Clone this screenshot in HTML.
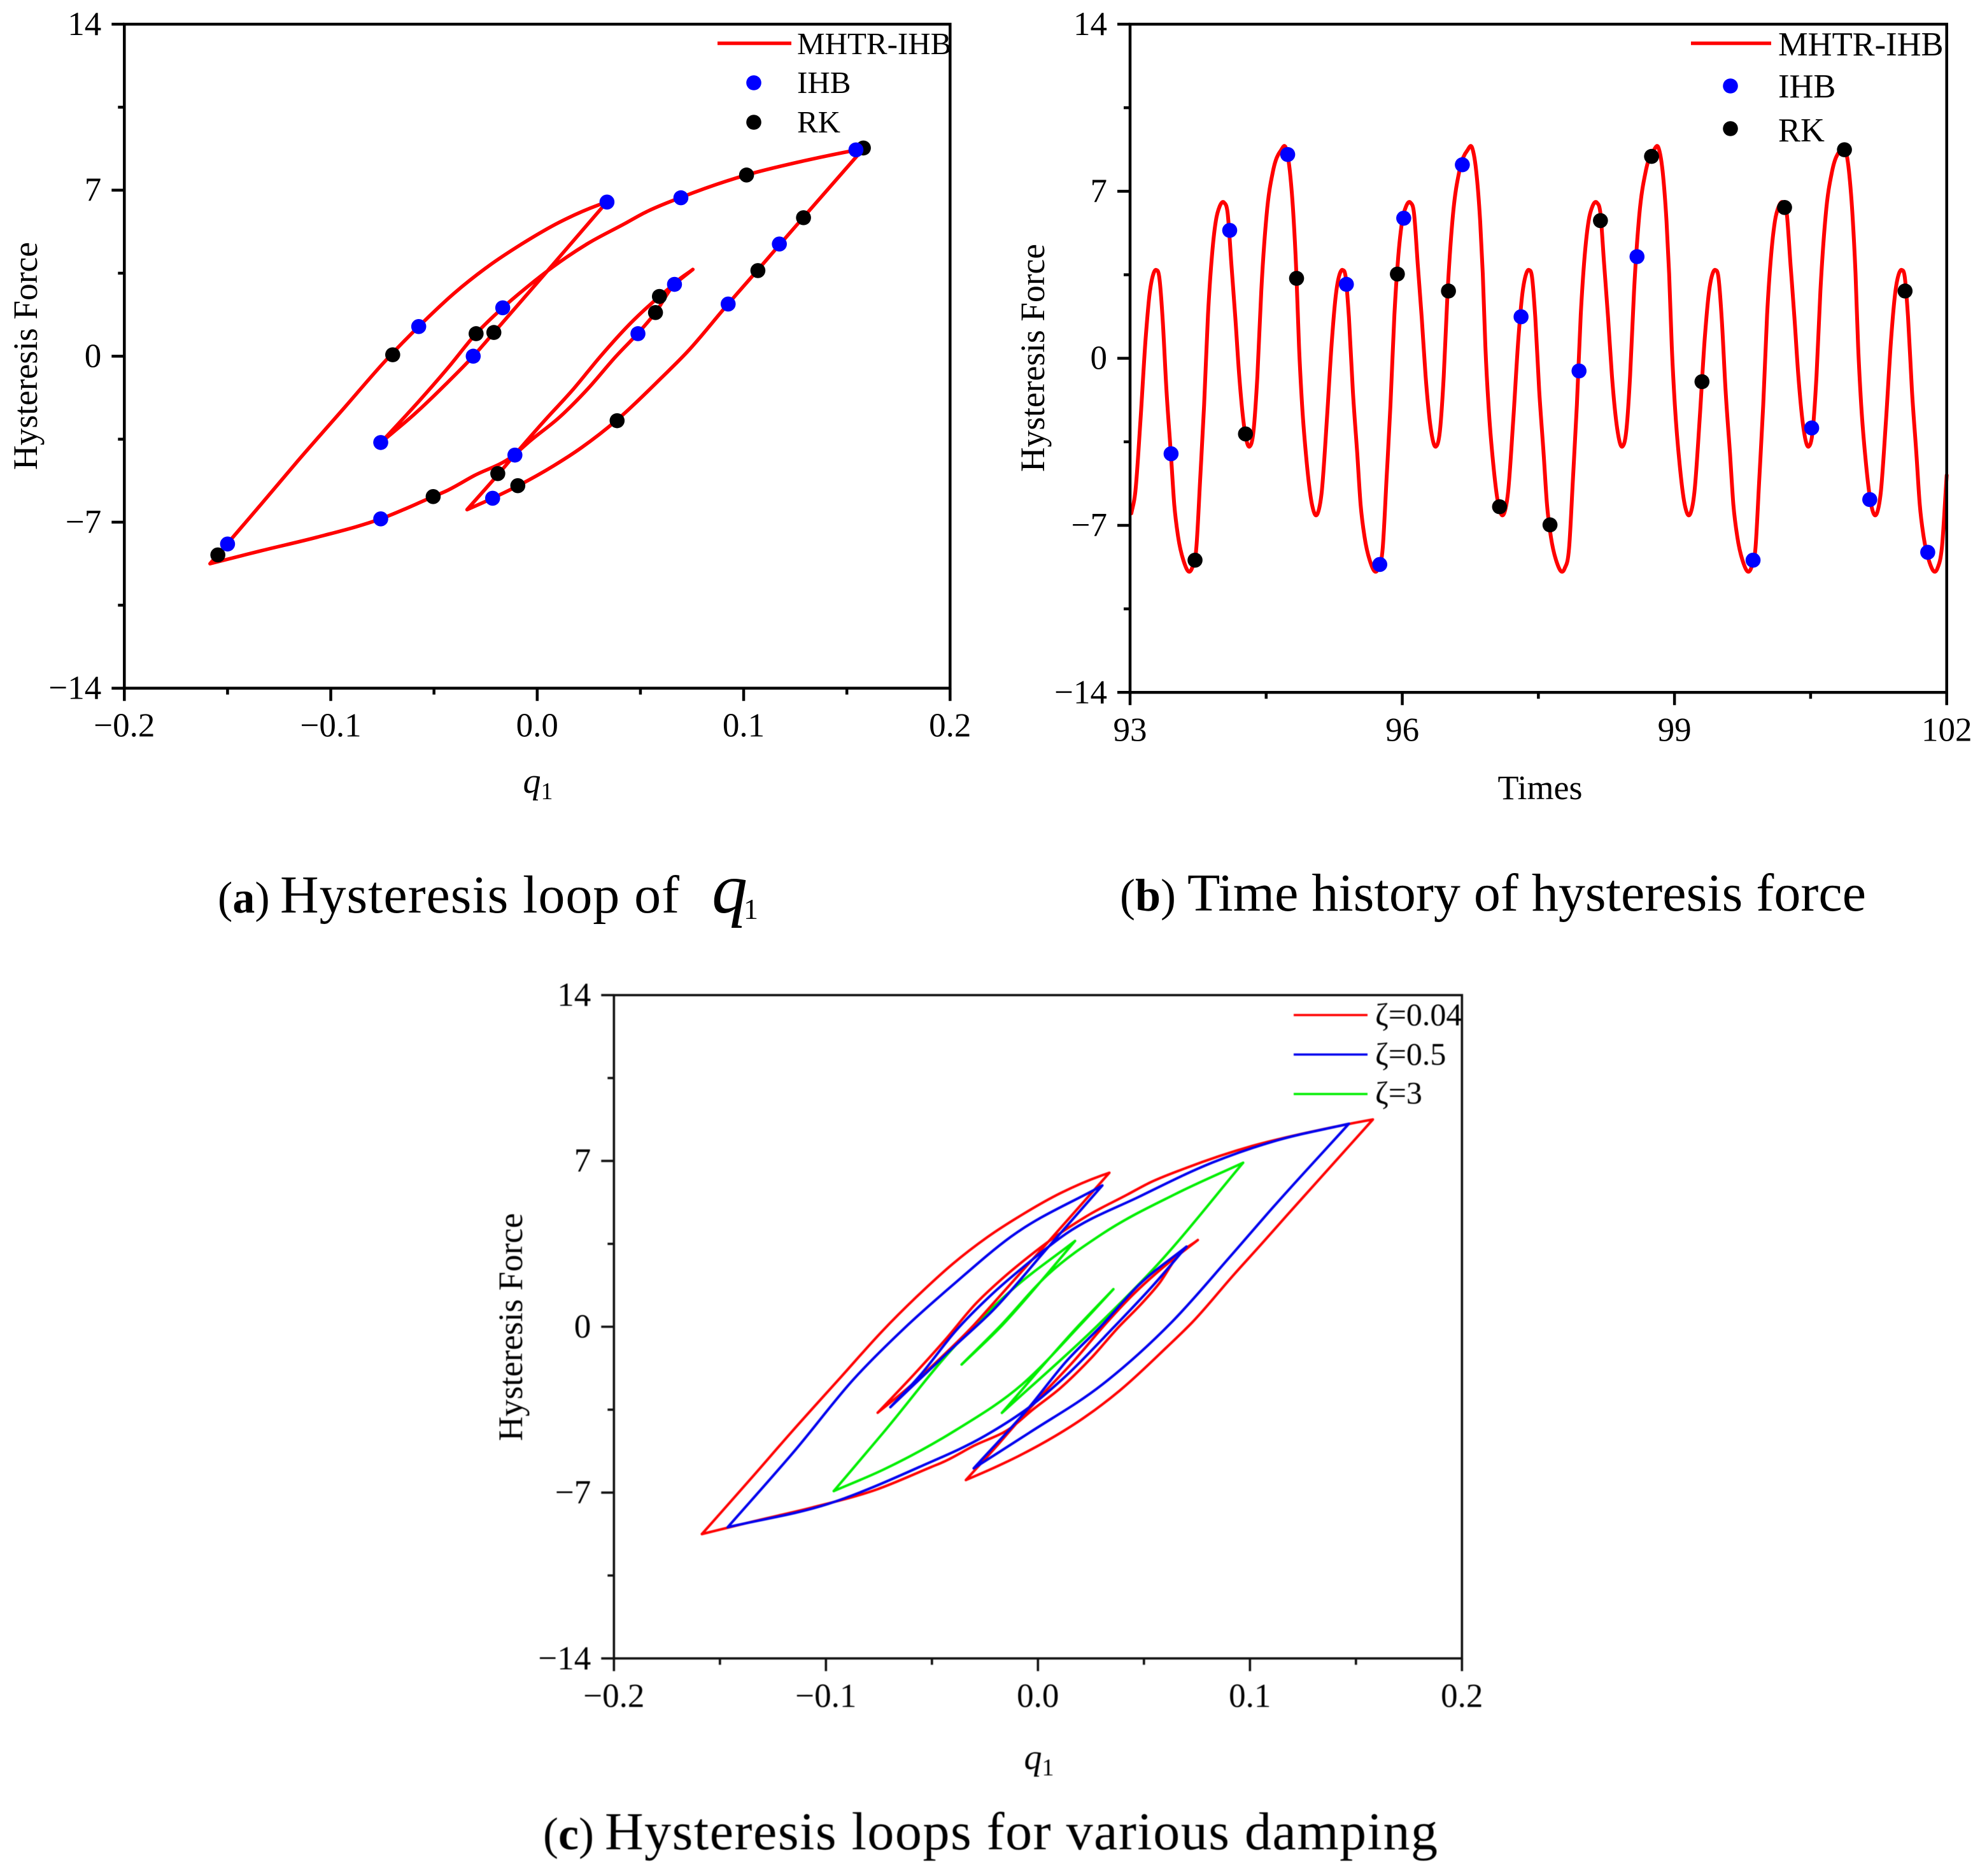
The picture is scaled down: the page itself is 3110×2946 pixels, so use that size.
<!DOCTYPE html>
<html>
<head>
<meta charset="utf-8">
<style>
html,body{margin:0;padding:0;background:#fff;}
svg{display:block;}
text{font-family:"Liberation Serif","Noto Serif CJK SC",serif;fill:#000;}
</style>
</head>
<body>
<svg id="figure" xmlns="http://www.w3.org/2000/svg" width="3110" height="2946" viewBox="0 0 3110 2946">
  <rect x="0" y="0" width="3110" height="2946" fill="#fff"/>

  <!-- Panel a labels -->
  <text transform="translate(58,559) rotate(-90)" text-anchor="middle" font-size="53.5">Hysteresis Force</text>
  <text x="845" y="1245" text-anchor="middle" font-size="56"><tspan font-style="italic">q</tspan><tspan font-size="38" dy="10">1</tspan></text>
  <text x="1252" y="85" font-size="49">MHTR-IHB</text>
  <text x="1252" y="146" font-size="49">IHB</text>
  <text x="1252" y="208" font-size="49">RK</text>
  <text x="342" y="1433" font-size="70">(<tspan font-weight="bold">a</tspan>)</text>
  <text x="440" y="1433" font-size="84" textLength="627">Hysteresis loop of</text>
  <text x="1118" y="1433" font-size="112" font-style="italic">q<tspan font-size="46" font-style="normal" dy="10" dx="-6">1</tspan></text>

  <!-- Panel b labels -->
  <text transform="translate(1640,562) rotate(-90)" text-anchor="middle" font-size="53.5">Hysteresis Force</text>
  <text x="2419" y="1255" text-anchor="middle" font-size="54">Times</text>
  <text x="2793" y="87" font-size="52.5">MHTR-IHB</text>
  <text x="2793" y="153" font-size="52.5">IHB</text>
  <text x="2793" y="222" font-size="52.5">RK</text>
  <text x="1759" y="1430" font-size="72">(<tspan font-weight="bold">b</tspan>)</text>
  <text x="1865" y="1430" font-size="84" textLength="1066">Time history of hysteresis force</text>

  <!-- Panel c labels -->
  <g style="filter:blur(0.6px)">
  <text transform="translate(820,2084) rotate(-90)" text-anchor="middle" font-size="53.5">Hysteresis Force</text>
  <text x="1632" y="2778" text-anchor="middle" font-size="56"><tspan font-style="italic">q</tspan><tspan font-size="38" dy="10">1</tspan></text>
  <text x="2160" y="1610" font-size="50">ζ=0.04</text>
  <text x="2160" y="1672" font-size="50">ζ=0.5</text>
  <text x="2160" y="1733" font-size="50">ζ=3</text>
  <text x="853" y="2904" font-size="72">(<tspan font-weight="bold">c</tspan>)</text>
  <text x="950" y="2904" font-size="84" textLength="1308">Hysteresis loops for various damping</text>
  </g>
</svg>
<script>
// ---------- Axis values ----------
const forceTicks = [14, 7, 0, -7, -14];
const forceTickLabels = ['14', '7', '0', '\u22127', '\u221214'];
const forceMinorTicks = [10.5, 3.5, -3.5, -10.5];
const qTicks = [-0.2, -0.1, 0, 0.1, 0.2];
const qTickLabels = ['\u22120.2', '\u22120.1', '0.0', '0.1', '0.2'];
const qMinorTicks = [-0.15, -0.05, 0.05, 0.15];
const timeTicks = [93, 96, 99, 102];
const timeTickLabels = ['93', '96', '99', '102'];
const timeMinorTicks = [94.5, 97.5, 100.5];

// ---------- Panel a / red curve of panel c: MHTR-IHB loop ----------
const loopQ = [-0.1585,-0.1478,-0.134,-0.1161,-0.0927,-0.0734,-0.0573,-0.0404,-0.0239,-0.0073,0.0106,0.0298,0.0337,
  0.0044,-0.0211,-0.031,-0.0445,-0.0597,-0.0756,
  -0.0569,-0.0431,-0.0297,-0.017,-0.0046,0.0078,0.0243,0.0422,0.052,0.0695,0.1013,0.1278,0.1543,0.158,
  0.1288,0.1174,0.1067,0.0926,0.0727,0.0603,0.0385,0.0217,0.008,-0.0092,-0.0219,-0.034,
  -0.0189,-0.011,0.0025,0.0176,0.0307,0.0451,0.0592,0.0754,
  0.0662,0.0572,0.0487,0.0382,0.0245,0.0107,-0.003,-0.0125,-0.0306,-0.0444,-0.0506,-0.0758,-0.1065,-0.134,-0.1585];
const loopForce = [-8.75,-7.67,-6.27,-4.43,-2.1,-0.18,1.26,2.64,3.78,4.74,5.64,6.38,6.5,
  3.54,0.985,0,-1.2,-2.46,-3.63,
  -1.86,-0.48,0.94,2.02,2.94,3.78,4.74,5.58,6.05,6.69,7.64,8.21,8.69,8.75,
  5.84,4.7,3.62,2.22,0.18,-0.9,-2.7,-3.84,-4.62,-5.46,-6.0,-6.47,
  -4.98,-4.17,-2.82,-1.38,0,1.38,2.52,3.66,
  3.02,1.83,0.96,0,-1.38,-2.58,-3.54,-4.25,-5.04,-5.7,-5.93,-6.86,-7.63,-8.21,-8.75];

const ihbQ = [-0.150,-0.0758,-0.0758,-0.0574,-0.031,-0.0167,-0.0108,-0.0216,0.0338,0.0488,0.0665,0.0696,0.0925,0.1173,0.1544];
const ihbForce = [-7.92,-6.86,-3.64,1.25,0,2.04,-4.17,-5.99,6.5,0.95,3.03,6.68,2.2,4.73,8.7];
const rkQ = [-0.1547,-0.070,-0.0504,-0.0296,-0.021,-0.0191,-0.0094,0.0387,0.0573,0.0592,0.1014,0.1069,0.129,0.158];
const rkForce = [-8.38,0.06,-5.92,0.95,1.0,-4.95,-5.46,-2.72,1.84,2.52,7.64,3.61,5.84,8.78];

// ---------- Panel b: time history ----------
const historyTime = [
93.014,93.057,93.115,93.172,93.215,93.258,93.289,93.321,93.358,93.401,93.45,93.487,93.53,93.587,93.682,93.73,93.773,93.816,93.859,93.902,93.945,93.988,94.037,94.074,94.117,94.16,94.203,94.26,94.317,94.36,94.403,94.446,94.504,94.575,94.661,94.718,94.761,94.804,94.833,94.862,94.896,94.948,95.005,
95.068,95.111,95.169,95.226,95.269,95.312,95.343,95.375,95.412,95.455,95.504,95.541,95.584,95.641,95.736,95.784,95.827,95.87,95.913,95.956,95.999,96.042,96.091,96.128,96.171,96.214,96.257,96.314,96.371,96.414,96.457,96.5,96.558,96.629,96.715,96.772,96.815,96.858,96.887,96.916,96.95,97.002,97.059,
97.122,97.165,97.223,97.28,97.323,97.366,97.397,97.429,97.466,97.509,97.558,97.595,97.638,97.695,97.79,97.838,97.881,97.924,97.967,98.01,98.053,98.096,98.145,98.182,98.225,98.268,98.311,98.368,98.425,98.468,98.511,98.554,98.612,98.683,98.769,98.826,98.869,98.912,98.941,98.97,99.004,99.056,99.113,
99.176,99.219,99.277,99.334,99.377,99.42,99.451,99.483,99.52,99.563,99.612,99.649,99.692,99.749,99.844,99.892,99.935,99.978,100.021,100.064,100.107,100.15,100.199,100.236,100.279,100.322,100.365,100.422,100.479,100.522,100.565,100.608,100.666,100.737,100.823,100.88,100.923,100.966,100.995,101.024,101.058,101.11,101.167,
101.23,101.273,101.331,101.388,101.431,101.474,101.505,101.537,101.574,101.617,101.666,101.703,101.746,101.803,101.898,101.946,102];
const historyForce = [
-6.5,-5.64,-2.58,0.85,2.69,3.55,3.7,3.43,1.71,-1.35,-4.01,-6.13,-7.48,-8.46,-8.8,-7.97,-5.03,-1.96,1.83,4.28,5.75,6.37,6.52,6.12,3.92,1.71,-0.74,-2.94,-3.7,-3.07,-0.74,2.81,5.99,7.84,8.7,8.8,7.84,5.75,3.55,0.49,-1.96,-4.41,-6.13,
-6.5,-5.64,-2.58,0.85,2.69,3.55,3.7,3.43,1.71,-1.35,-4.01,-6.13,-7.48,-8.46,-8.8,-7.97,-5.03,-1.96,1.83,4.28,5.75,6.37,6.52,6.12,3.92,1.71,-0.74,-2.94,-3.7,-3.07,-0.74,2.81,5.99,7.84,8.7,8.8,7.84,5.75,3.55,0.49,-1.96,-4.41,-6.13,
-6.5,-5.64,-2.58,0.85,2.69,3.55,3.7,3.43,1.71,-1.35,-4.01,-6.13,-7.48,-8.46,-8.8,-7.97,-5.03,-1.96,1.83,4.28,5.75,6.37,6.52,6.12,3.92,1.71,-0.74,-2.94,-3.7,-3.07,-0.74,2.81,5.99,7.84,8.7,8.8,7.84,5.75,3.55,0.49,-1.96,-4.41,-6.13,
-6.5,-5.64,-2.58,0.85,2.69,3.55,3.7,3.43,1.71,-1.35,-4.01,-6.13,-7.48,-8.46,-8.8,-7.97,-5.03,-1.96,1.83,4.28,5.75,6.37,6.52,6.12,3.92,1.71,-0.74,-2.94,-3.7,-3.07,-0.74,2.81,5.99,7.84,8.7,8.8,7.84,5.75,3.55,0.49,-1.96,-4.41,-6.13,
-6.5,-5.64,-2.58,0.85,2.69,3.55,3.7,3.43,1.71,-1.35,-4.01,-6.13,-7.48,-8.46,-8.8,-7.97,-4.9];
const ihbTime = [93.452,94.098,94.737,95.384,95.752,96.016,96.662,97.309,97.948,98.587,99.866,100.512,101.152,101.791];
const ihbHistory = [-4.0,5.36,8.54,3.1,-8.64,5.87,8.11,1.74,-0.53,4.26,-8.46,-2.92,-5.92,-8.13];
const rkTime = [93.716,94.272,94.835,95.946,96.509,97.072,97.628,98.184,98.747,99.303,100.213,100.873,101.541];
const rkHistory = [-8.46,-3.17,3.35,3.53,2.82,-6.22,-6.98,5.77,8.46,-0.98,6.32,8.74,2.82];

// ---------- Panel c: damping series ----------
const zetaMidQ = [-0.1463,-0.1144,-0.0868,-0.0627,-0.0386,-0.0127,0.0304,
  0.0045,-0.0213,-0.0386,-0.0696,
  -0.0558,-0.0386,-0.0213,-0.0041,0.0132,0.0476,0.0821,0.1111,0.1467,
  0.1111,0.0907,0.0632,0.0304,-0.0041,-0.0303,
  -0.0041,0.0132,0.0304,0.0476,0.0701,
  0.0545,0.0356,0.0132,-0.0041,-0.0248,-0.0558,-0.0989,-0.1463];
const zetaMidForce = [-8.46,-5.2,-2.2,-0.035,1.885,3.805,5.965,
  3.325,0.685,-0.755,-3.395,
  -2.075,-0.155,1.405,2.725,3.925,5.485,6.925,7.825,8.57,
  5.065,2.965,0.205,-2.435,-4.475,-5.975,
  -3.395,-1.475,0.085,1.765,3.385,
  1.765,-0.035,-2.075,-3.395,-4.595,-5.915,-7.475,-8.46];
const zetaHighQ = [-0.0963,-0.073,-0.0386,-0.0127,0.0175,
  0.0045,-0.0179,-0.036,
  -0.0179,0.0045,0.0304,0.0649,0.0968,
  0.0562,0.0278,-0.017,
  0.0183,0.0356,
  0.0201,-0.0075,-0.0386,-0.073,-0.0963];
const zetaHighForce = [-6.935,-4.475,-0.755,1.525,3.625,
  2.245,-0.035,-1.595,
  0.025,2.185,3.925,5.605,6.925,
  2.605,0.025,-3.635,
  -0.035,1.585,
  0.085,-2.435,-4.355,-6.035,-6.935];

// ---------- Drawing ----------
const svg = document.getElementById('figure');
const NS = 'http://www.w3.org/2000/svg';

function make(tag, attrs, parent) {
  const el = document.createElementNS(NS, tag);
  for (const k in attrs) el.setAttribute(k, attrs[k]);
  (parent || svg).appendChild(el);
  return el;
}

function linearScale(d0, d1, r0, r1) {
  return function (v) { return r0 + (v - d0) * (r1 - r0) / (d1 - d0); };
}

// Each branch is monotonic in x; turning points stay sharp, interior points
// use a three-point (non-uniform) slope so the curve stays smooth.
function smoothPath(xs, ys, sx, sy) {
  const px = xs.map(sx), py = ys.map(sy);
  const n = px.length;
  function slopeAt(i) {
    if (i === 0 || i === n - 1) return null;
    if ((xs[i] - xs[i - 1]) * (xs[i + 1] - xs[i]) <= 0) return null;
    const h0 = px[i] - px[i - 1], h1 = px[i + 1] - px[i];
    const s0 = (py[i] - py[i - 1]) / h0, s1 = (py[i + 1] - py[i]) / h1;
    return (s0 * h1 + s1 * h0) / (h0 + h1);
  }
  let d = 'M' + px[0].toFixed(1) + ' ' + py[0].toFixed(1);
  for (let i = 0; i < n - 1; i++) {
    const h = px[i + 1] - px[i];
    const secant = (py[i + 1] - py[i]) / h;
    const m0 = slopeAt(i), m1 = slopeAt(i + 1);
    const c1x = px[i] + h / 3;
    const c1y = py[i] + (m0 === null ? secant : m0) * h / 3;
    const c2x = px[i + 1] - h / 3;
    const c2y = py[i + 1] - (m1 === null ? secant : m1) * h / 3;
    d += 'C' + c1x.toFixed(1) + ' ' + c1y.toFixed(1) + ' ' + c2x.toFixed(1) + ' ' + c2y.toFixed(1) + ' ' +
      px[i + 1].toFixed(1) + ' ' + py[i + 1].toFixed(1);
  }
  return d;
}

function drawAxes(p, xTicks, xLabels, xMinor, sx, sy, group) {
  const tickWidth = p.lineWidth;
  for (let i = 0; i < forceTicks.length; i++) {
    const y = sy(forceTicks[i]);
    const tick = make('line', {x1: p.left - 20, x2: p.left, y1: y, y2: y, stroke: p.axisColor, 'stroke-width': tickWidth}, group);
    
    
    const label = make('text', {x: p.left - 36, y: y + 17, 'text-anchor': 'end', 'font-size': 53}, group);
    label.textContent = forceTickLabels[i];
    
    
  }
  forceMinorTicks.forEach(function (v) {
    const y = sy(v);
    const tick = make('line', {x1: p.left - 10, x2: p.left, y1: y, y2: y, stroke: p.axisColor, 'stroke-width': tickWidth}, group);
    
    
  });
  for (let i = 0; i < xTicks.length; i++) {
    const x = sx(xTicks[i]);
    const tick = make('line', {x1: x, x2: x, y1: p.bottom, y2: p.bottom + 20, stroke: p.axisColor, 'stroke-width': tickWidth}, group);
    
    
    const label = make('text', {x: x, y: p.bottom + 76, 'text-anchor': 'middle', 'font-size': 53}, group);
    label.textContent = xLabels[i];
    
    
  }
  xMinor.forEach(function (v) {
    const x = sx(v);
    const tick = make('line', {x1: x, x2: x, y1: p.bottom, y2: p.bottom + 10, stroke: p.axisColor, 'stroke-width': tickWidth}, group);
    
    
  });
  const frame = make('rect', {x: p.left, y: p.top, width: p.right - p.left, height: p.bottom - p.top, fill: 'none', stroke: p.axisColor, 'stroke-width': p.lineWidth}, group);
  
  
}

function drawDots(xs, ys, sx, sy, color, name, group) {
  for (let i = 0; i < xs.length; i++) {
    const dot = make('circle', {cx: sx(xs[i]), cy: sy(ys[i]), r: 11.8, fill: color}, group);
    
    
  }
}

function drawCurve(xs, ys, sx, sy, color, width, name, group) {
  const curve = make('path', {d: smoothPath(xs, ys, sx, sy), fill: 'none', stroke: color, 'stroke-width': width, 'stroke-linejoin': 'round', 'stroke-linecap': 'round'}, group);
  
  
}

function drawLegendLine(x1, x2, y, color, width, name, group) {
  const line = make('line', {x1: x1, x2: x2, y1: y, y2: y, stroke: color, 'stroke-width': width}, group);
  
  
}

function drawLegendDot(x, y, color, name, group) {
  const dot = make('circle', {cx: x, cy: y, r: 11.8, fill: color}, group);
  
  
}

// Panel a
const panelA = {left: 195.3, right: 1492.3, top: 38, bottom: 1080.7, lineWidth: 4.5, axisColor: '#000'};
const ax = linearScale(-0.2, 0.2, panelA.left, panelA.right);
const ay = linearScale(-14, 14, panelA.bottom, panelA.top);
const groupA = make('g', {});


drawCurve(loopQ, loopForce, ax, ay, '#ff0000', 5.6, 'mhtr-ihb-loop', groupA);
drawDots(rkQ, rkForce, ax, ay, '#000', 'rk-point', groupA);
drawDots(ihbQ, ihbForce, ax, ay, '#0000ff', 'ihb-point', groupA);
drawAxes(panelA, qTicks, qTickLabels, qMinorTicks, ax, ay, groupA);
drawLegendLine(1127, 1243, 68, '#ff0000', 5.6, 'legend-mhtr-ihb-line', groupA);
drawLegendDot(1184, 130, '#0000ff', 'legend-ihb-dot', groupA);
drawLegendDot(1184, 192, '#000', 'legend-rk-dot', groupA);

// Panel b
const panelB = {left: 1775, right: 3057.7, top: 38, bottom: 1087.3, lineWidth: 4.5, axisColor: '#000'};
const bx = linearScale(93, 102, panelB.left, panelB.right);
const by = linearScale(-14, 14, panelB.bottom, panelB.top);
const groupB = make('g', {});


drawCurve(historyTime, historyForce, bx, by, '#ff0000', 6, 'mhtr-ihb-history', groupB);
drawDots(rkTime, rkHistory, bx, by, '#000', 'rk-point', groupB);
drawDots(ihbTime, ihbHistory, bx, by, '#0000ff', 'ihb-point', groupB);
drawAxes(panelB, timeTicks, timeTickLabels, timeMinorTicks, bx, by, groupB);
drawLegendLine(2656, 2782, 68, '#ff0000', 5.6, 'legend-mhtr-ihb-line', groupB);
drawLegendDot(2718, 135, '#0000ff', 'legend-ihb-dot', groupB);
drawLegendDot(2718, 202, '#000', 'legend-rk-dot', groupB);

// Panel c
const panelC = {left: 964.3, right: 2296.3, top: 1562.7, bottom: 2604.3, lineWidth: 3.6, axisColor: '#111'};
const cx = linearScale(-0.2, 0.2, panelC.left, panelC.right);
const cy = linearScale(-14, 14, panelC.bottom, panelC.top);
const groupC = make('g', {style: 'filter:blur(0.6px)'});


drawCurve(zetaHighQ, zetaHighForce, cx, cy, '#00ee00', 4, 'zeta-3-loop', groupC);
drawCurve(loopQ, loopForce, cx, cy, '#ff0000', 4, 'zeta-0.04-loop', groupC);
drawCurve(zetaMidQ, zetaMidForce, cx, cy, '#0000ee', 4, 'zeta-0.5-loop', groupC);
drawAxes(panelC, qTicks, qTickLabels, qMinorTicks, cx, cy, groupC);
drawLegendLine(2032, 2148, 1594, '#ff0000', 3.6, 'legend-zeta-0.04-line', groupC);
drawLegendLine(2032, 2148, 1656, '#0000ee', 3.6, 'legend-zeta-0.5-line', groupC);
drawLegendLine(2032, 2148, 1718, '#00ee00', 3.6, 'legend-zeta-3-line', groupC);
</script>
</body>
</html>
